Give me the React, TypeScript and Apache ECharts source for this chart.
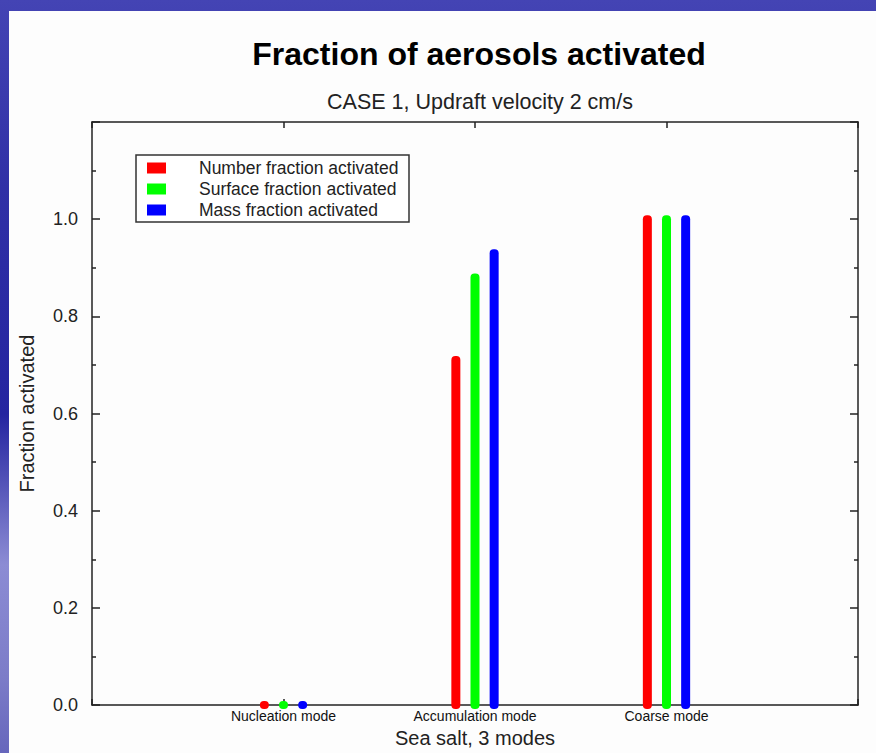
import React, { useEffect, useRef } from 'react';
import * as echarts from 'echarts';

const categories = ['Nucleation mode', 'Accumulation mode', 'Coarse mode'];
const seriesNames = ['Number fraction activated', 'Surface fraction activated', 'Mass fraction activated'];
const numberFraction = [0.0, 0.71, 1.0];
const surfaceFraction = [0.0, 0.88, 1.0];
const massFraction = [0.0, 0.93, 1.0];
const seriesColors = ['#ff0000', '#00ff00', '#0000ff'];
const yTickLabels = ['0.0', '0.2', '0.4', '0.6', '0.8', '1.0'];

const FONT = '"Liberation Sans", Arial, sans-serif';

function makeRender(offset: number, color: string) {
  return (params: any, api: any) => {
    const x = api.value(0) + offset;
    const v = api.value(1);
    const base = api.coord([x, 0]);
    const top = api.coord([x, v]);
    const w = 9;
    const ext = 4;
    return {
      type: 'rect',
      shape: {
        x: base[0] - w / 2,
        y: top[1] - ext,
        width: w,
        height: base[1] - top[1] + ext * 2,
        r: 4,
      },
      style: { fill: color },
    };
  };
}

export default function App() {
  const ref = useRef<HTMLDivElement>(null);

  useEffect(() => {
    if (!ref.current) return;
    const chart = echarts.init(ref.current, null, { renderer: 'svg' });
    const allValues = [numberFraction, surfaceFraction, massFraction];
    const offsets = [-0.1, 0, 0.1];

    const axisLine = { show: true, onZero: false, lineStyle: { color: '#222', width: 1.5 } };
    const tickStyle = { color: '#222', width: 1.5 };

    chart.setOption({
      animation: false,
      backgroundColor: 'transparent',
      textStyle: { fontFamily: FONT },
      title: [
        {
          text: 'Fraction of aerosols activated',
          left: 474,
          top: 33,
          textAlign: 'center',
          textStyle: { fontSize: 32, fontWeight: 'bold', color: '#000', fontFamily: FONT },
        },
        {
          text: 'CASE 1, Updraft velocity 2 cm/s',
          left: 475,
          top: 86,
          textAlign: 'center',
          textStyle: { fontSize: 21.5, fontWeight: 'normal', color: '#222', fontFamily: FONT },
        },
      ],
      graphic: [
        {
          type: 'rect',
          z: -10,
          shape: { x: 9, y: 11, width: 867, height: 742 },
          style: { fill: '#fdfdfd' },
          silent: true,
        },
        {
          type: 'rect',
          z: 0,
          shape: { x: 136, y: 155, width: 273, height: 67 },
          style: { fill: '#fff', stroke: '#333', lineWidth: 1.5 },
          silent: true,
        },
      ],
      legend: {
        orient: 'vertical',
        left: 142,
        top: 154,
        z: 5,
        itemWidth: 19,
        itemHeight: 11,
        itemGap: 3,
        icon: 'rect',
        data: seriesNames,
        textStyle: { fontSize: 17.5, color: '#222', fontFamily: FONT, padding: [0, 0, 0, 28] },
      },
      grid: { left: 92, right: 18, top: 122, bottom: 43, containLabel: false },
      xAxis: [
        {
          type: 'value',
          min: 0,
          max: 4,
          interval: 1,
          position: 'bottom',
          name: 'Sea salt, 3 modes',
          nameLocation: 'middle',
          nameGap: 17,
          nameTextStyle: { fontSize: 20, color: '#222', fontFamily: FONT },
          axisLine,
          axisTick: { show: true, inside: true, length: 6, lineStyle: tickStyle },
          axisLabel: {
            margin: 4,
            fontSize: 14,
            color: '#111',
            fontFamily: FONT,
            formatter: (v: number) => (v >= 1 && v <= categories.length ? categories[v - 1] : ''),
          },
          splitLine: { show: false },
        },
        {
          type: 'value',
          min: 0,
          max: 4,
          interval: 1,
          position: 'top',
          axisLine,
          axisTick: { show: true, inside: true, length: 6, lineStyle: tickStyle },
          axisLabel: { show: false },
          splitLine: { show: false },
        },
      ],
      yAxis: [
        {
          type: 'value',
          min: 0,
          max: 1.2,
          interval: 0.2,
          position: 'left',
          name: 'Fraction activated',
          nameLocation: 'middle',
          nameRotate: 90,
          nameGap: 55,
          nameTextStyle: { fontSize: 20, color: '#222', fontFamily: FONT },
          axisLine,
          axisTick: { show: true, inside: true, length: 8, lineStyle: tickStyle },
          minorTick: { show: true, splitNumber: 2, length: 4, lineStyle: tickStyle },
          axisLabel: {
            margin: 14,
            fontSize: 18,
            color: '#222',
            fontFamily: FONT,
            formatter: (v: number) => {
              const i = Math.round(v / 0.2);
              return i < yTickLabels.length ? yTickLabels[i] : '';
            },
          },
          splitLine: { show: false },
        },
        {
          type: 'value',
          min: 0,
          max: 1.2,
          interval: 0.2,
          position: 'right',
          axisLine,
          axisTick: { show: true, inside: true, length: 8, lineStyle: tickStyle },
          minorTick: { show: true, splitNumber: 2, length: 4, lineStyle: tickStyle },
          axisLabel: { show: false },
          splitLine: { show: false },
        },
      ],
      series: seriesNames.map((name, s) => ({
        name,
        type: 'custom',
        xAxisIndex: 0,
        yAxisIndex: 0,
        z: 3,
        itemStyle: { color: seriesColors[s] },
        renderItem: makeRender(offsets[s], seriesColors[s]),
        data: categories.map((_, i) => [i + 1, allValues[s][i]]),
      })),
    });

    return () => {
      chart.dispose();
    };
  }, []);

  return (
    <div
      style={{
        position: 'fixed',
        left: 0,
        top: 0,
        width: 876,
        height: 753,
        background:
          'linear-gradient(180deg, #4444b4 0%, #3030a6 25%, #2424a0 55%, #8c8cd4 75%, #7c7cc8 90%, #6666bc 100%)',
      }}
    >
      <div ref={ref} style={{ width: 876, height: 753 }} />
    </div>
  );
}
